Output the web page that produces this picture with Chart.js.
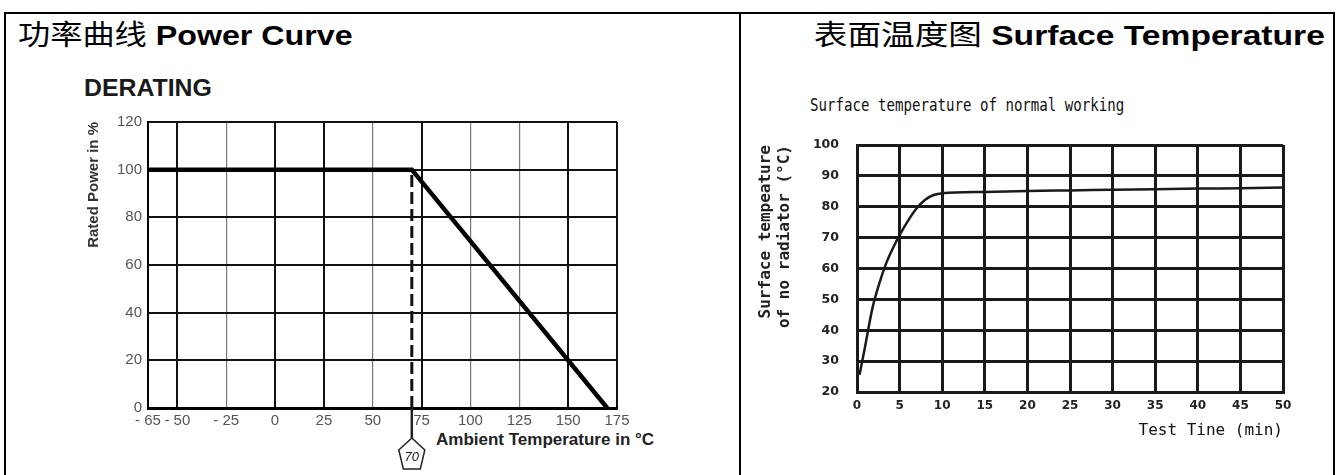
<!DOCTYPE html>
<html>
<head>
<meta charset="utf-8">
<script src="https://cdn.jsdelivr.net/npm/chart.js@4.4.1/dist/chart.umd.min.js"></script>
<style>
  html, body { margin: 0; padding: 0; background: #fff; }
  #page { position: relative; width: 1339px; height: 475px; overflow: hidden; font-family: "Liberation Sans", Arial, sans-serif; }
  .frame { position: absolute; left: 4px; top: 12px; width: 1331px; height: 463px; border: 2px solid #000; box-sizing: border-box; border-bottom: none; }
  .divider { position: absolute; left: 739px; top: 12px; width: 2px; height: 463px; background: #000; }
  .head { position: absolute; top: 16px; font-size: 28px; line-height: 34px; color: #000; white-space: nowrap; }
  .head .cn { font-family: "Noto Sans CJK SC", sans-serif; font-weight: 400; }
  .head .en { font-family: "Liberation Sans", Arial, sans-serif; font-weight: 700; }
  .box { position: absolute; }
  .txt { position: absolute; white-space: nowrap; color: #111; }
</style>
</head>
<body>
<div id="page">
  <div class="frame"></div>
  <div class="divider"></div>
  <div class="head" style="left:18px; transform-origin:left center; transform:scaleX(1.15);"><span class="cn">功率曲线</span> <span class="en">Power Curve</span></div>
  <div class="head" style="right:14px; transform-origin:right center; transform:scaleX(1.2);"><span class="cn">表面温度图</span> <span class="en">Surface Temperature</span></div>

  <div class="txt" style="left:84px; top:75px; font: 700 23px 'Liberation Sans', Arial, sans-serif; color:#1a1a1a; transform-origin:left center; transform:scaleX(1.08);">DERATING</div>
  <div class="txt" style="left:436px; top:430px; font: 700 17px 'Liberation Sans', Arial, sans-serif; color:#222;">Ambient Temperature in °C</div>
  <div class="txt" style="left:810px; top:95px; font: 400 17px 'DejaVu Sans Mono', monospace; color:#111; transform-origin:left center; transform:scaleX(0.83);">Surface temperature of normal working</div>

  <div class="box" style="left:80px; top:60px; width:560px; height:412px;"><canvas id="chartDerating"></canvas></div>
  <div class="box" style="left:745px; top:60px; width:585px; height:412px;"><canvas id="chartSurface"></canvas></div>
</div>

<script>
// Derating curve
const derateTemp = [-65, 70, 170];
const deratePower = [100, 100, 0];
const derateXTicks = [-65, -50, -25, 0, 25, 50, 75, 100, 125, 150, 175];
const derateYTicks = [0, 20, 40, 60, 80, 100, 120];
const kneeTemp = 70;
const kneeLabel = '70';

// Surface temperature curve
const surfTime = [0.3, 0.9, 1.8, 2.6, 3.4, 4.2, 5, 6, 7, 8, 9, 10, 15, 20, 25, 30, 35, 40, 45, 50];
const surfTemp = [25.6, 34, 47, 55, 61.5, 66.5, 70.8, 75.5, 79.5, 82.3, 83.8, 84.4, 84.8, 85.1, 85.3, 85.5, 85.7, 85.9, 86.0, 86.2];
const surfXTicks = [0, 5, 10, 15, 20, 25, 30, 35, 40, 45, 50];
const surfYTicks = [20, 30, 40, 50, 60, 70, 80, 90, 100];

document.addEventListener('DOMContentLoaded', () => {

  // marker under the 70°C line
  const kneeMarker = {
    id: 'kneeMarker',
    afterDatasetsDraw(chart) {
      const ctx = chart.ctx;
      const x = chart.scales.x.getPixelForValue(kneeTemp);
      const y0 = chart.chartArea.bottom;
      ctx.save();
      ctx.strokeStyle = '#222';
      ctx.lineWidth = 2.5;
      ctx.beginPath();
      ctx.moveTo(x, y0);
      ctx.lineTo(x, y0 + 30);
      ctx.stroke();
      ctx.lineWidth = 1.5;
      ctx.beginPath();
      ctx.moveTo(x, y0 + 30);
      ctx.lineTo(x + 13, y0 + 42);
      ctx.lineTo(x + 8.5, y0 + 61);
      ctx.lineTo(x - 8.5, y0 + 61);
      ctx.lineTo(x - 13, y0 + 42);
      ctx.closePath();
      ctx.fillStyle = '#fff';
      ctx.fill();
      ctx.stroke();
      ctx.fillStyle = '#222';
      ctx.font = 'italic 13px "Liberation Sans", Arial, sans-serif';
      ctx.textAlign = 'center';
      ctx.textBaseline = 'middle';
      ctx.fillText(kneeLabel, x, y0 + 49);
      ctx.restore();
    }
  };

  const thinLines = [-25, 50, 100, 125];

  new Chart(document.getElementById('chartDerating'), {
    type: 'line',
    data: {
      datasets: [{
        data: derateTemp.map((t, i) => ({ x: t, y: deratePower[i] })),
        borderColor: '#000',
        borderWidth: 4.5,
        pointRadius: 0,
        tension: 0
      }, {
        data: [{ x: kneeTemp, y: 0 }, { x: kneeTemp, y: deratePower[1] }],
        borderColor: '#111',
        borderWidth: 3,
        borderDash: [12, 5],
        pointRadius: 0
      }]
    },
    options: {
      responsive: true,
      maintainAspectRatio: false,
      animation: false,
      layout: { padding: { top: 62, right: 23, bottom: 0, left: 0 } },
      plugins: { legend: { display: false }, tooltip: { enabled: false } },
      scales: {
        x: {
          type: 'linear',
          min: -65, max: 175,
          afterBuildTicks: s => { s.ticks = derateXTicks.map(v => ({ value: v })); },
          afterFit: s => { s.height = 64; },
          grid: {
            drawTicks: false,
            color: c => thinLines.includes(c.tick && c.tick.value) ? '#777' : '#111',
            lineWidth: c => thinLines.includes(c.tick && c.tick.value) ? 1.2 : 2
          },
          border: { color: '#000', width: 3 },
          ticks: {
            padding: 4,
            color: '#555',
            font: { size: 15, family: '"Liberation Sans", Arial, sans-serif' },
            maxRotation: 0,
            autoSkip: false,
            callback: v => v < 0 ? '- ' + Math.abs(v) : String(v)
          }
        },
        y: {
          min: 0, max: 120,
          afterBuildTicks: s => { s.ticks = derateYTicks.map(v => ({ value: v })); },
          afterFit: s => { s.width = 68; },
          grid: { drawTicks: false, color: '#111', lineWidth: 2 },
          border: { color: '#000', width: 2 },
          ticks: {
            padding: 6,
            color: '#555',
            font: { size: 15, family: '"Liberation Sans", Arial, sans-serif' }
          },
          title: {
            display: true,
            text: 'Rated Power in %',
            align: 'end',
            color: '#333',
            font: { size: 15, weight: 'bold', family: '"Liberation Sans", Arial, sans-serif' },
            padding: { top: 5, bottom: 0 }
          }
        }
      }
    },
    plugins: [kneeMarker]
  });

  new Chart(document.getElementById('chartSurface'), {
    type: 'line',
    data: {
      datasets: [{
        data: surfTime.map((t, i) => ({ x: t, y: surfTemp[i] })),
        borderColor: '#1a1a1a',
        borderWidth: 2.5,
        pointRadius: 0,
        cubicInterpolationMode: 'monotone'
      }]
    },
    options: {
      responsive: true,
      maintainAspectRatio: false,
      animation: false,
      layout: { padding: { top: 85, right: 47, bottom: 0, left: 0 } },
      plugins: { legend: { display: false }, tooltip: { enabled: false } },
      scales: {
        x: {
          type: 'linear',
          min: 0, max: 50,
          afterBuildTicks: s => { s.ticks = surfXTicks.map(v => ({ value: v })); },
          afterFit: s => { s.height = 80; },
          grid: { drawTicks: false, color: '#1a1a1a', lineWidth: 3 },
          border: { color: '#1a1a1a', width: 3 },
          ticks: {
            padding: 7,
            color: '#222',
            font: { size: 12, weight: 'bold', family: '"DejaVu Sans", sans-serif' },
            maxRotation: 0,
            autoSkip: false
          },
          title: {
            display: true,
            text: 'Test Tine (min)',
            align: 'end',
            color: '#111',
            font: { size: 16, family: '"DejaVu Sans Mono", monospace' },
            padding: { top: 0, bottom: 32 }
          }
        },
        y: {
          min: 20, max: 100,
          afterBuildTicks: s => { s.ticks = surfYTicks.map(v => ({ value: v })); },
          afterFit: s => { s.width = 112; },
          grid: { drawTicks: false, color: '#1a1a1a', lineWidth: 3 },
          border: { color: '#1a1a1a', width: 3 },
          ticks: {
            padding: 18,
            color: '#222',
            font: { size: 12.5, weight: 'bold', family: '"DejaVu Sans", sans-serif' }
          },
          title: {
            display: true,
            text: ['Surface tempeature', 'of no radiator (°C)'],
            align: 'end',
            color: '#222',
            font: { size: 16, weight: 'bold', family: '"DejaVu Sans Mono", monospace', lineHeight: 1.2 },
            padding: { top: 11, bottom: 0 }
          }
        }
      }
    }
  });

});
</script>
</body>
</html>
